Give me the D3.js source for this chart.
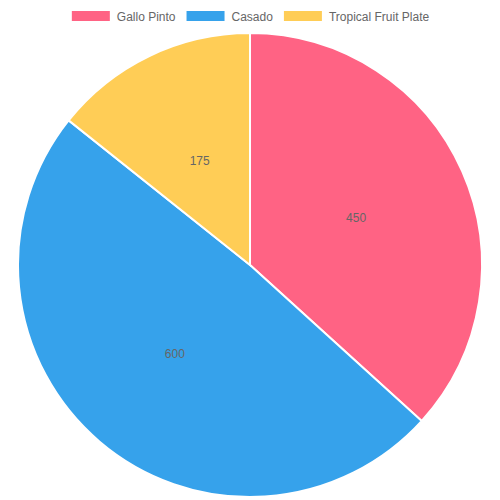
<!DOCTYPE html>
<html>
<head>
<meta charset="utf-8">
<script src="https://cdn.jsdelivr.net/npm/d3@7"></script>
<style>
  body { margin: 0; background: #fff; }
  text { font-family: "Liberation Sans", Arial, sans-serif; }
</style>
</head>
<body>
<div id="main"></div>
<script>
const ctx = { w: 500, h: 500, cx: 250, cy: 265, r: 232 };

const dishes = ['Gallo Pinto', 'Casado', 'Tropical Fruit Plate'];
const orders = [450, 600, 175];
const colors = ['rgb(255, 99, 132)', 'rgb(54, 162, 235)', 'rgb(255, 205, 86)'];

const data = dishes.map((d, i) => ({ name: d, value: orders[i], color: colors[i] }));

const svg = d3.select("#main").append("svg")
    .attr("width", ctx.w)
    .attr("height", ctx.h);

// legend, centered at the top
const legend = svg.append("g");
let xPos = 0;
const items = data.map(d => {
    const g = legend.append("g");
    g.append("rect")
        .attr("x", 0).attr("y", 0)
        .attr("width", 40).attr("height", 12)
        .attr("fill", d.color)
        .attr("stroke", "#fff")
        .attr("stroke-width", 2);
    const t = g.append("text")
        .attr("x", 46).attr("y", 10.5)
        .attr("fill", "#666")
        .style("font-size", "12px")
        .text(d.name);
    const w = 46 + t.node().getComputedTextLength();
    g.attr("transform", `translate(${xPos},10)`);
    xPos += w + 10;
    return g;
});
legend.attr("transform", `translate(${(ctx.w - (xPos - 10)) / 2},0)`);

// pie
const pie = d3.pie().sort(null).value(d => d.value);
const arc = d3.arc().innerRadius(0).outerRadius(ctx.r);
const labelArc = d3.arc().innerRadius(ctx.r / 2).outerRadius(ctx.r / 2);

const pieG = svg.append("g").attr("transform", `translate(${ctx.cx},${ctx.cy})`);

pieG.selectAll("path")
    .data(pie(data))
    .enter().append("path")
    .attr("d", arc)
    .attr("fill", d => d.data.color)
    .attr("stroke", "#fff")
    .attr("stroke-width", 2);

pieG.selectAll(".lbl")
    .data(pie(data))
    .enter().append("text")
    .attr("class", "lbl")
    .attr("transform", d => `translate(${labelArc.centroid(d)})`)
    .attr("text-anchor", "middle")
    .attr("dy", "0.35em")
    .attr("fill", "#666")
    .style("font-size", "12px")
    .text(d => d.data.value);
</script>
</body>
</html>
